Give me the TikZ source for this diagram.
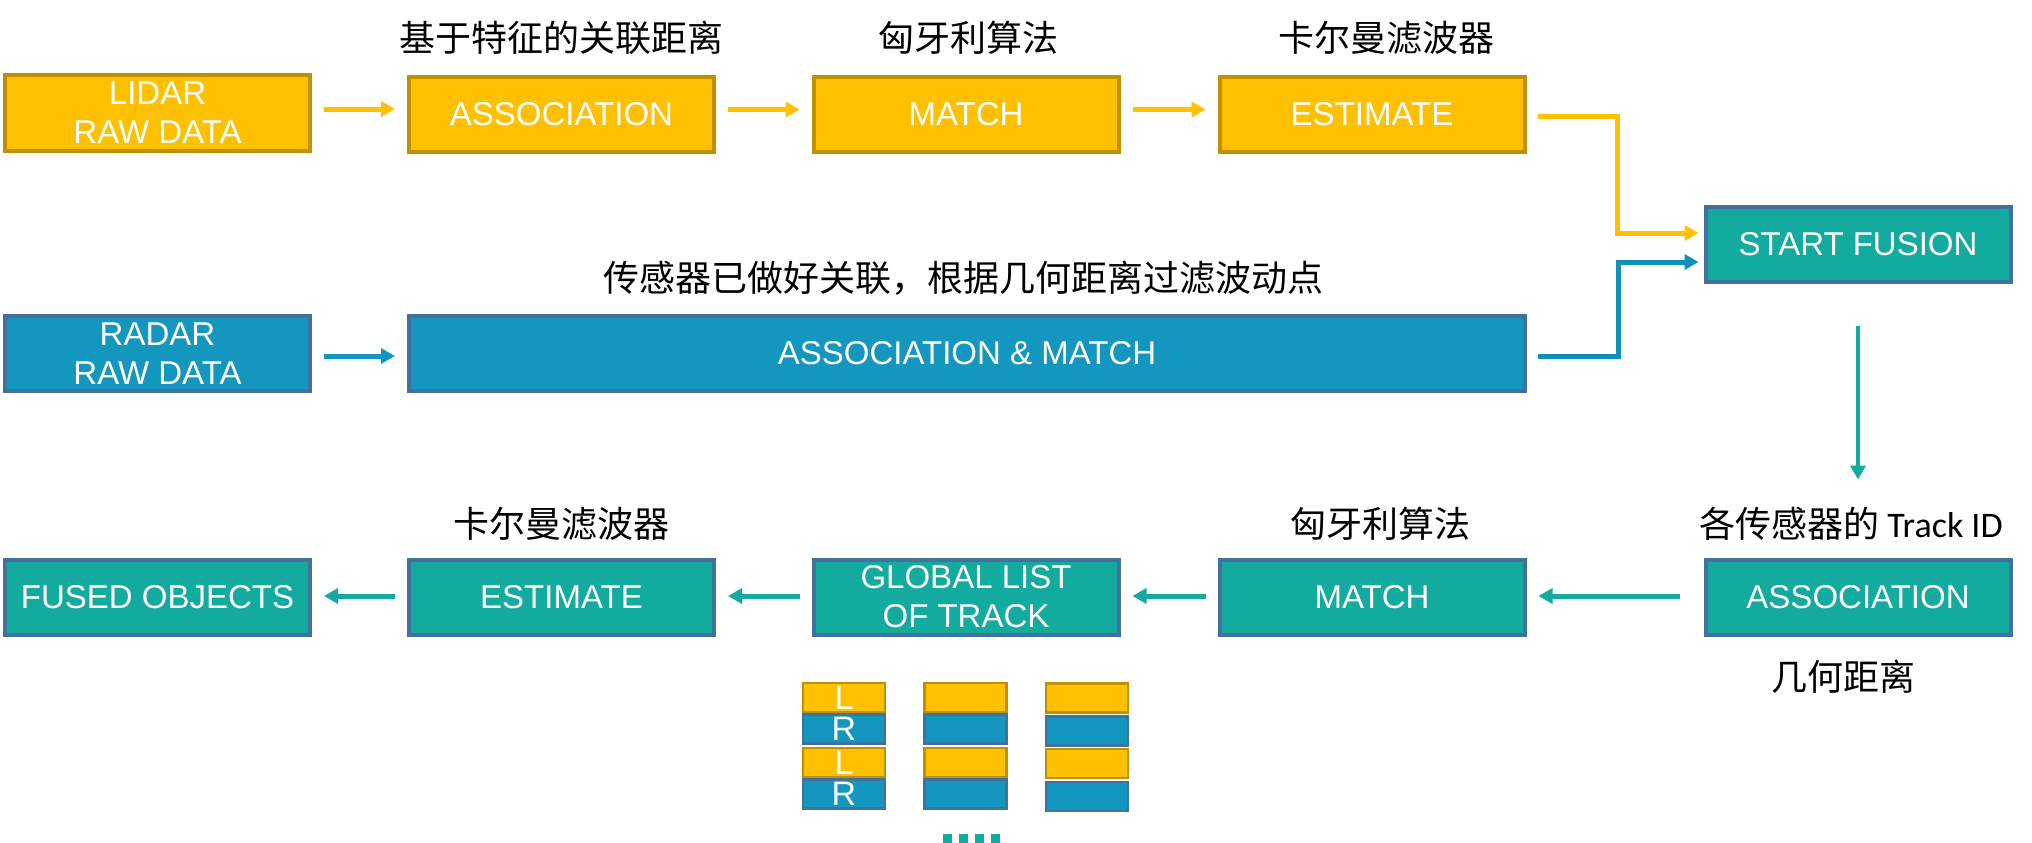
\documentclass[tikz,border=0pt]{standalone}
\usepackage{fontspec}
\setmainfont{Liberation Sans}
\newfontfamily\cjk{Noto Sans CJK SC}
\newfontfamily\carlito{Carlito}
\usetikzlibrary{arrows.meta}
\definecolor{yF}{HTML}{FFC000}
\definecolor{yD}{HTML}{BF9000}
\definecolor{bF}{HTML}{1497BE}
\definecolor{bA}{HTML}{0E90B8}
\definecolor{bD}{HTML}{41719C}
\definecolor{tF}{HTML}{14AB9F}
\tikzset{
  box/.style={draw, line width=4pt, minimum width=305pt, minimum height=75pt, text=white,
    font=\fontsize{33}{39}\selectfont, align=center, inner sep=0pt},
  ybox/.style={box, fill=yF, draw=yD},
  bbox/.style={box, fill=bF, draw=bD},
  tbox/.style={box, fill=tF, draw=bD},
  lab/.style={font=\cjk\fontsize{36}{40}\selectfont, inner sep=0pt, text=black},
  arr/.style={line width=5pt, -{Triangle[length=14pt,width=15pt]}},
  cell/.style={draw, line width=2.5pt, minimum width=82pt, minimum height=29pt, inner sep=0pt,
    text=white, font=\fontsize{34}{34}\selectfont},
  ycell/.style={cell, fill=yF, draw=yD},
  bcell/.style={cell, fill=bF, draw=bD},
  dot/.style={fill=tF, minimum size=9pt, inner sep=0pt}
}
\begin{document}
\begin{tikzpicture}[x=1pt,y=1pt]
\useasboundingbox (0,0) rectangle (2032,-843);
% top row (lidar)
\node[ybox] (lidar) at (157.5,-113) {LIDAR\\RAW DATA};
\node[ybox] (assoc1) at (561.5,-114.5) {ASSOCIATION};
\node[ybox] (match1) at (966,-114.5) {MATCH};
\node[ybox] (est1) at (1372,-114.5) {ESTIMATE};
\node[tbox] (sf) at (1858,-244) {START FUSION};
% radar row
\node[bbox] (radar) at (157.5,-353.5) {RADAR\\RAW DATA};
\node[bbox, minimum width=1116pt] (am) at (967,-353.5) {ASSOCIATION \& MATCH};
% bottom row
\node[tbox] (fused) at (157.5,-597) {FUSED OBJECTS};
\node[tbox] (est2) at (561.5,-597) {ESTIMATE};
\node[tbox] (glob) at (966,-597) {GLOBAL LIST\\OF TRACK};
\node[tbox] (match2) at (1372,-597) {MATCH};
\node[tbox] (assoc2) at (1858,-597) {ASSOCIATION};
% labels
\node[lab] (l1) at (561,-38) {基于特征的关联距离};
\node[lab] (l2) at (968,-38) {匈牙利算法};
\node[lab] (l3) at (1386,-38) {卡尔曼滤波器};
\node[lab] (l4) at (963,-278) {传感器已做好关联，根据几何距离过滤波动点};
\node[lab] (l5) at (1851,-524) {各传感器的 {\carlito Track ID}};
\node[lab] (l6) at (1380,-524) {匈牙利算法};
\node[lab] (l7) at (561,-524) {卡尔曼滤波器};
\node[lab] (l8) at (1843,-677) {几何距离};
% top arrows
\draw[arr, yF, shorten <=12pt, shorten >=12pt] ([yshift=4pt]lidar.east) -- ([yshift=4pt]lidar.east -| assoc1.west);
\draw[arr, yF, shorten <=12pt, shorten >=12pt] ([yshift=5pt]assoc1.east) -- ([yshift=5pt]match1.west);
\draw[arr, yF, shorten <=12pt, shorten >=12pt] ([yshift=5pt]match1.east) -- ([yshift=5pt]est1.west);
\draw[arr, yF, shorten >=5pt] ([xshift=11pt,yshift=-1.5pt]est1.east) -- ++(80,0) |- ([yshift=11pt]sf.west);
% radar arrows
\draw[arr, bF, shorten <=12pt, shorten >=12pt] ([yshift=-2.5pt]radar.east) -- ([yshift=-2.5pt]am.west);
\draw[arr, bA, shorten >=5pt] ([xshift=11pt,yshift=-2.5pt]am.east) -- ++(80,0) |- ([yshift=-18pt]sf.west);
% down arrow
\draw[line width=3.5pt, tF, -{Triangle[length=14pt,width=15pt]}] ([yshift=-42pt]sf.south) -- ([yshift=78pt]assoc2.north);
% bottom arrows
\draw[arr, tF, shorten <=24pt, shorten >=12pt] ([yshift=1pt]assoc2.west) -- ([yshift=1pt]match2.east);
\draw[arr, tF, shorten <=12pt, shorten >=12pt] ([yshift=1pt]match2.west) -- ([yshift=1pt]glob.east);
\draw[arr, tF, shorten <=12pt, shorten >=12pt] ([yshift=1pt]glob.west) -- ([yshift=1pt]est2.east);
\draw[arr, tF, shorten <=12pt, shorten >=12pt] ([yshift=1pt]est2.west) -- ([yshift=1pt]fused.east);
% track stacks
\node[ycell] (a1) at (844,-697.5) {L};
\node[bcell] (a2) at (844,-729) {R};
\node[ycell] (a3) at (844,-762.5) {L};
\node[bcell] (a4) at (844,-794) {R};
\node[ycell] (b1) at (965.5,-697.5) {};
\node[bcell] (b2) at (965.5,-729) {};
\node[ycell] (b3) at (965.5,-762.5) {};
\node[bcell] (b4) at (965.5,-794) {};
\node[ycell] (c1) at (1087,-698) {};
\node[bcell] (c2) at (1087,-731) {};
\node[ycell] (c3) at (1087,-763.5) {};
\node[bcell] (c4) at (1087,-796.5) {};
\node[dot] (d1) at (947.5,-838) {};
\node[dot] (d2) at (963.5,-838) {};
\node[dot] (d3) at (979.5,-838) {};
\node[dot] (d4) at (995.5,-838) {};
\end{tikzpicture}
\end{document}
